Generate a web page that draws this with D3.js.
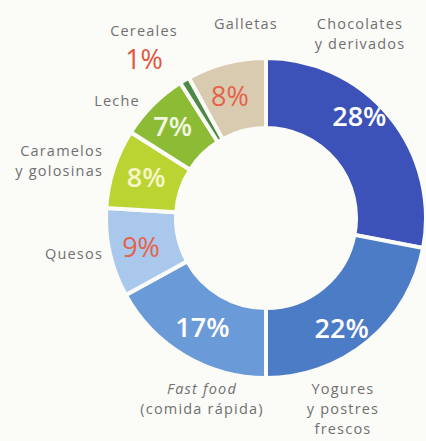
<!DOCTYPE html>
<html>
<head>
<meta charset="utf-8">
<script src="https://cdn.jsdelivr.net/npm/d3@7"></script>
<style>
  body { margin: 0; background: #fbfbf8; }
  svg { display: block; }
  .cat { font-family: "Open Sans", sans-serif; font-size: 14.5px; fill: #707070; letter-spacing: 1.2px; }
  .pct { font-family: "Open Sans", sans-serif; font-size: 27px; }
</style>
</head>
<body>
<div id="viz"></div>
<script>
// data, clockwise from 12 o'clock
var categories = ['Chocolates y derivados', 'Yogures y postres frescos', 'Fast food (comida rápida)',
  'Quesos', 'Caramelos y golosinas', 'Leche', 'Cereales', 'Galletas'];
var values = [28, 22, 17, 9, 8, 7, 1, 8];
var sliceColors = ['#3c52b8', '#4c7cc6', '#6b9ad8', '#a9c8ec', '#bbd431', '#8cbc35', '#4d8a45', '#d9cbb0'];
var pctColors = ['#ffffff', '#ffffff', '#ffffff', '#e4624a', '#f6f5c8', '#f2f7e0', '#e0553c', '#e4624a'];

// category label lines (layout only)
var catLines = [['Chocolates', 'y derivados'], ['Yogures', 'y postres', 'frescos'], ['Fast food', '(comida rápida)'],
  ['Quesos'], ['Caramelos', 'y golosinas'], ['Leche'], ['Cereales'], ['Galletas']];
var catPos = [[360, 29, 'middle'], [343, 394, 'middle'], [202, 394, 'middle'],
  [103, 259, 'end'], [103, 156, 'end'], [117, 106, 'middle'], [144, 36, 'middle'], [246, 29, 'middle']];
// nudges for the percent labels relative to arc centroid
var pctNudge = [[-3, -22], [-4, 14], [0, 2], [-3, 2], [-1, -2], [-5, -3], [0, 0], [-5, 0]];

var width = 426, height = 441;
var cx = 266, cy = 218, outerR = 160, innerR = 90;

var svg = d3.select('#viz').append('svg')
  .attr('width', width)
  .attr('height', height);

var g = svg.append('g').attr('transform', 'translate(' + cx + ',' + cy + ')');

var pie = d3.pie().value(function(d) { return d; }).sort(null);
var arcs = pie(values);
var arc = d3.arc().innerRadius(innerR).outerRadius(outerR);

g.selectAll('.slice')
  .data(arcs)
  .enter()
  .append('path')
  .attr('class', 'slice')
  .attr('d', arc)
  .attr('fill', function(d, i) { return sliceColors[i]; })
  .attr('stroke', '#fbfbf8')
  .attr('stroke-width', 4)
  .attr('stroke-linejoin', 'miter');

// percent labels (cereales sits outside under its name)
g.selectAll('.pct')
  .data(arcs)
  .enter()
  .append('text')
  .attr('class', 'pct')
  .attr('text-anchor', 'middle')
  .attr('dy', '0.35em')
  .attr('x', function(d, i) {
    if (categories[i] == 'Cereales') return 144 - cx;
    return arc.centroid(d)[0] + pctNudge[i][0];
  })
  .attr('y', function(d, i) {
    if (categories[i] == 'Cereales') return 60 - cy;
    return arc.centroid(d)[1] + pctNudge[i][1];
  })
  .attr('fill', function(d, i) { return pctColors[i]; })
  .style('font-weight', function(d, i) { return (i == 3 || i == 6 || i == 7) ? 400 : 600; })
  .text(function(d) { return d.data + '%'; });

// category labels
categories.forEach(function(c, i) {
  var t = svg.append('text')
    .attr('class', 'cat')
    .attr('x', catPos[i][0])
    .attr('y', catPos[i][1])
    .attr('text-anchor', catPos[i][2]);
  catLines[i].forEach(function(line, j) {
    var ts = t.append('tspan')
      .attr('x', catPos[i][0])
      .attr('dy', j == 0 ? 0 : 20)
      .text(line);
    if (line == 'Fast food') ts.attr('font-style', 'italic');
  });
});
</script>
</body>
</html>
